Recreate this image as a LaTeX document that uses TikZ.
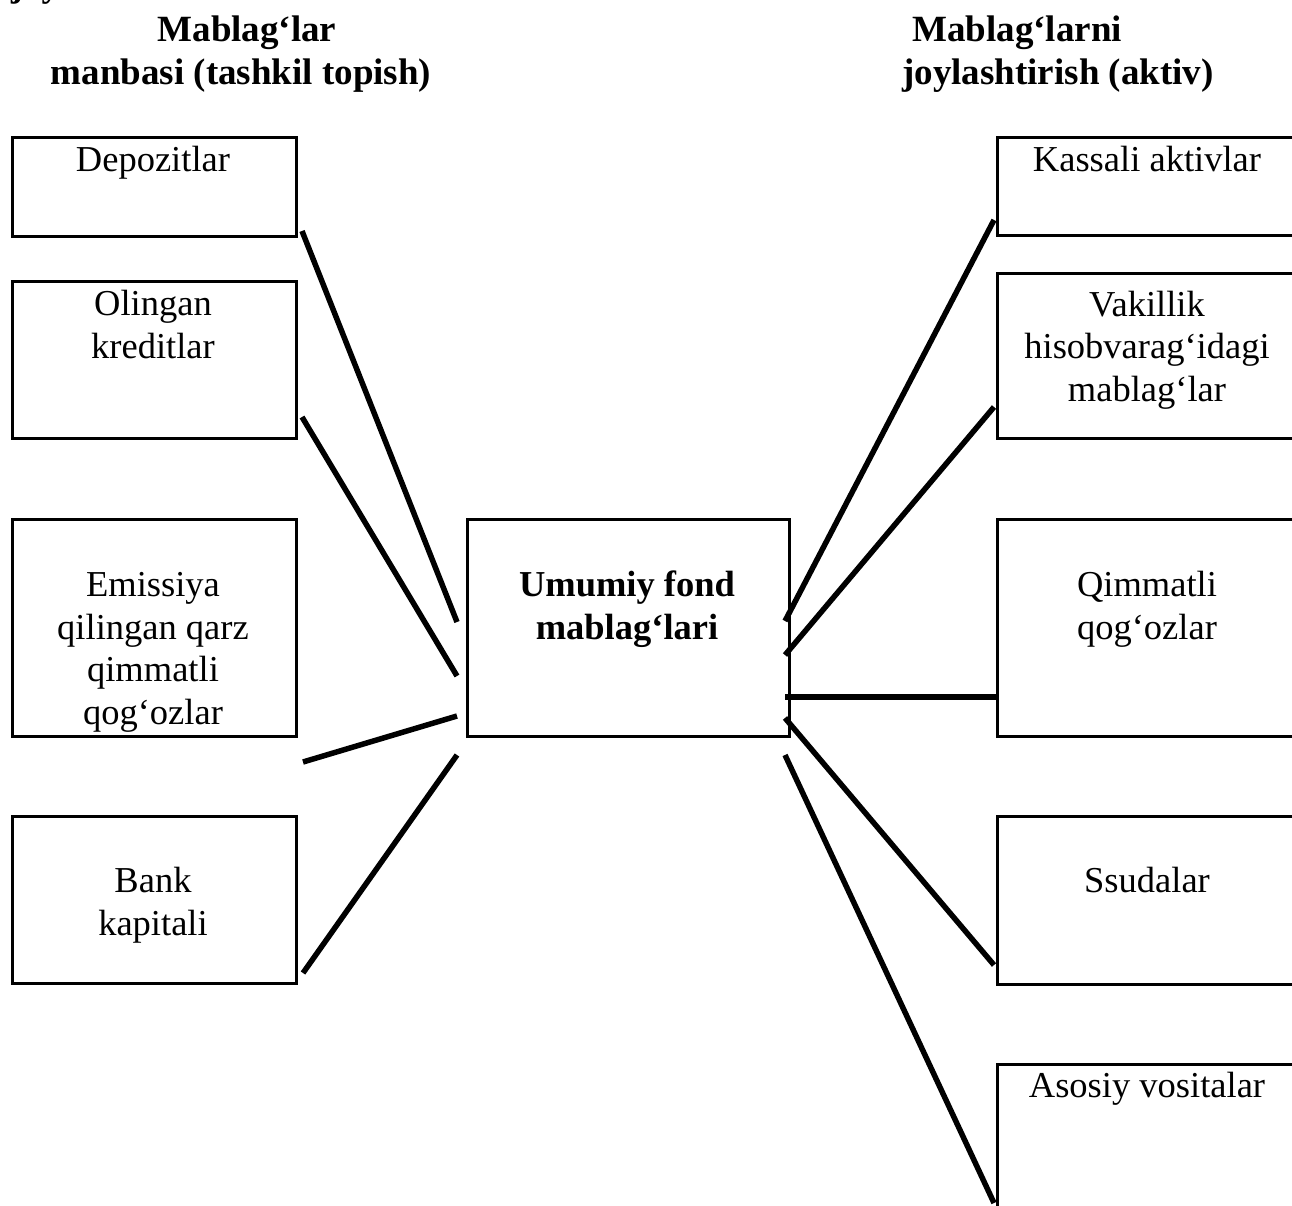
\documentclass[tikz,border=0pt]{standalone}
\usepackage{fontspec}
\setmainfont{Liberation Serif}
\begin{document}
\begin{tikzpicture}[x=1pt,y=-1pt,
  box/.style={draw, line width=3pt, rectangle, inner sep=0pt, anchor=north west},
  txt/.style={inner sep=0pt, align=center, anchor=base, font=\fontsize{36.5}{42.5}\selectfont},
  head/.style={inner sep=0pt, anchor=base, font=\fontsize{37}{42.5}\selectfont\bfseries},
  link/.style={line width=5.5pt}]
\clip (0,0) rectangle (1292,1206);
\fill[white] (0,0) rectangle (1292,1206);

% cut-off fragment at the top
\node[inner sep=0pt, anchor=base west, font=\fontsize{36.5}{42.5}\selectfont\bfseries] (frag) at (11,-3) {joy};

% headings
\node[head] (hl1) at (247,42) {Mablag‘lar};
\node[head] (hl2) at (241,85) {manbasi (tashkil topish)};
\node[head, anchor=base west] (hr1) at (912,42) {Mablag‘larni};
\node[head, anchor=base west] (hr2) at (902,85) {joylashtirish (aktiv)};

% left boxes
\node[box, minimum width=284pt, minimum height=99pt] (dep) at (11,136) {};
\node[box, minimum width=284pt, minimum height=157pt] (kred) at (11,280) {};
\node[box, minimum width=284pt, minimum height=217pt] (emis) at (11,518) {};
\node[box, minimum width=284pt, minimum height=167pt] (bank) at (11,815) {};
% (base anchor = baseline of the last line)
\node[txt] (tdep) at (153,172) {Depozitlar};
\node[txt] (tkred) at (153,358) {Olingan\\kreditlar};
\node[txt] (temis) at (153,724) {Emissiya\\qilingan qarz\\qimmatli\\qog‘ozlar};
\node[txt] (tbank) at (153,935) {Bank\\kapitali};

% centre box
\node[box, minimum width=322pt, minimum height=217pt] (umum) at (466,518) {};
\node[txt, font=\fontsize{36.5}{42.5}\selectfont\bfseries] (tumum) at (627,639) {Umumiy fond\\mablag‘lari};

% right boxes
\node[box, minimum width=302pt, minimum height=98pt] (kas) at (996,136) {};
\node[box, minimum width=302pt, minimum height=165pt] (vak) at (996,272) {};
\node[box, minimum width=302pt, minimum height=217pt] (qim) at (996,518) {};
\node[box, minimum width=302pt, minimum height=168pt] (ssu) at (996,815) {};
\node[box, minimum width=302pt, minimum height=170pt] (aso) at (996,1063) {};
\node[txt] (tkas) at (1147,172) {Kassali aktivlar};
\node[txt] (tvak) at (1147,401) {Vakillik\\hisobvarag‘idagi\\mablag‘lar};
\node[txt] (tqim) at (1147,639) {Qimmatli\\qog‘ozlar};
\node[txt] (tssu) at (1147,892) {Ssudalar};
\node[txt] (taso) at (1147,1097) {Asosiy vositalar};

% connector end points
\coordinate (a1) at (302,231); \coordinate (b1) at (457,622);
\coordinate (a2) at (302,417); \coordinate (b2) at (457,676);
\coordinate (a3) at (303,762); \coordinate (b3) at (457,716);
\coordinate (a4) at (303,973); \coordinate (b4) at (457,755);
\coordinate (c1) at (785,621); \coordinate (d1) at (994,220);
\coordinate (c2) at (785,655); \coordinate (d2) at (994,407);
\coordinate (c3) at (785,697); \coordinate (d3) at (996,697);
\coordinate (c4) at (785,718); \coordinate (d4) at (994,965);
\coordinate (c5) at (785,755); \coordinate (d5) at (994,1203);

\draw[link] (a1) -- (b1);
\draw[link] (a2) -- (b2);
\draw[link] (a3) -- (b3);
\draw[link] (a4) -- (b4);
\draw[link] (c1) -- (d1);
\draw[link] (c2) -- (d2);
\draw[link] (c3) -- (d3);
\draw[link] (c4) -- (d4);
\draw[link] (c5) -- (d5);
\end{tikzpicture}
\end{document}
